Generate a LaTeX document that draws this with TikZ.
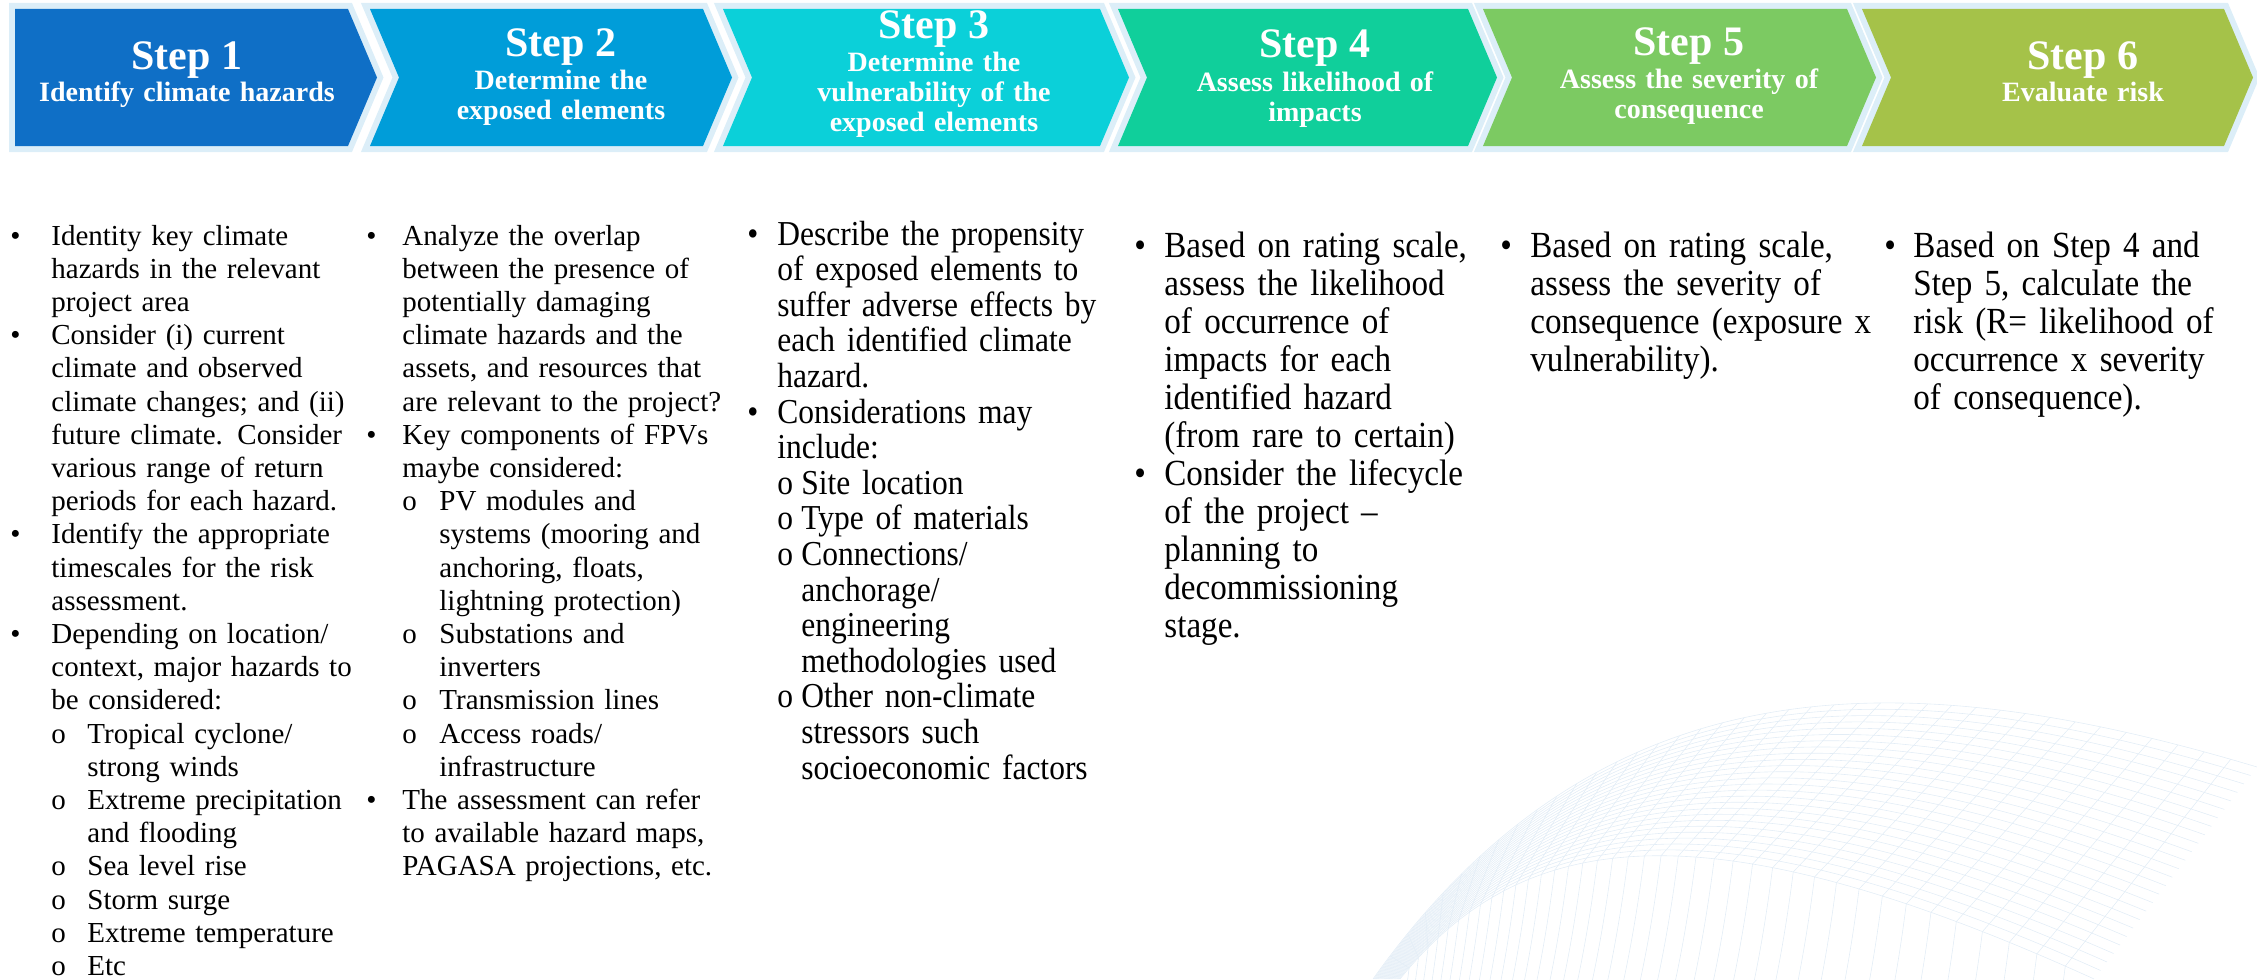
\documentclass[tikz,border=0pt]{standalone}
\usepackage{fontspec}
\setmainfont{Liberation Serif}
\newfontfamily\condfont[FakeStretch=0.9]{Liberation Serif}
\usepackage{tikz}
\usetikzlibrary{positioning}

\definecolor{stepA}{HTML}{0F6FC6}
\definecolor{stepB}{HTML}{009DD9}
\definecolor{stepC}{HTML}{0BD0D9}
\definecolor{stepD}{HTML}{10CF9B}
\definecolor{stepE}{HTML}{7CCA62}
\definecolor{stepF}{HTML}{A5C249}
\definecolor{rim}{HTML}{DCEEF8}
\definecolor{wavecol}{HTML}{E3EDF6}

\newlength\bind
\newlength\sind
\newcommand\bitem[1]{\noindent\hangindent=\bind\hangafter=1\makebox[\bind][l]{\textbullet}#1\par}
\newcommand\sitem[1]{\noindent\hangindent=\sind\hangafter=1\hspace*{\bind}\makebox[\dimexpr\sind-\bind\relax][l]{o}#1\par}

\begin{document}
\begin{tikzpicture}[x=0.5pt, y=-0.5pt,
	chev/.style={preaction={draw=rim, line width=6pt}},
	stepnum/.style={anchor=base, inner sep=0pt, text=white, font=\bfseries\fontsize{21}{21}\selectfont},
	steptxt/.style={anchor=base, inner sep=0pt, text=white, align=center, text width=180pt,
		font=\bfseries\fontsize{14}{15}\selectfont},
	colbox/.style 2 args={anchor=base west, inner sep=0pt, align=left, text width=200pt,
		execute at begin node={\setlength\bind{#1}\setlength\sind{#2}\parskip=0pt}},
	small/.style={font=\fontsize{14.5}{16.6}\selectfont},
	large/.style={font=\condfont\fontsize{18.4}{19}\selectfont},
	wave/.style={draw=wavecol, line width=0.3pt}]
	\useasboundingbox (0,0) rectangle (2257,979);
	% background mesh
	\begin{scope}
		\clip (0,0) rectangle (2257,979);
		\foreach \t in {0,0.04,...,1.01}
			\draw[wave] ({1373+27*\t},979) .. controls ({1600-80*\t},{660+170*\t}) and ({1900-200*\t},{660+140*\t}) .. ({2257-163*\t},{767+212*\t});
		\path (1373,979) .. controls (1600,660) and (1900,660) .. (2257,767)
			\foreach \p [count=\k] in {0.025,0.05,...,0.98} {coordinate[pos=\p] (u\k)};
		\path (1400,979) .. controls (1520,830) and (1700,800) .. (2094,979)
			\foreach \p [count=\k] in {0.025,0.05,...,0.98} {coordinate[pos=\p] (l\k)};
		\foreach \k in {1,...,39} {
			\draw[wave] (u\k) -- (l\k);
			\draw[wave] (l\k) .. controls +(-10,80) and +(30,-60) .. ++(-60,250);
		}
	\end{scope}
	% chevrons
	\foreach \col/\l/\r/\n in {stepA/15/348/0, stepB/370/703/29, stepC/723/1100/29,
		stepD/1118/1468/29, stepE/1483/1847/29, stepF/1862/2224/29}
		\path[chev, fill=\col] (\l,9) -- (\r,9) -- ({\r+29},77.5) -- (\r,146) -- (\l,146) -- ({\l+\n},77.5) -- cycle;
	\node[stepnum] (s1) at (187,69) {Step 1};
	\node[steptxt] (t1) at ([yshift=-16.5pt]s1.base) {Identify climate hazards};
	\node[stepnum] (s2) at (561,57) {Step 2};
	\node[steptxt] (t2) at ([yshift=-16.5pt]s2.base) {Determine the\\exposed elements};
	\node[stepnum] (s3) at (934,39) {Step 3};
	\node[steptxt] (t3) at ([yshift=-16.5pt]s3.base) {Determine the\\vulnerability of the\\exposed elements};
	\node[stepnum] (s4) at (1315,58) {Step 4};
	\node[steptxt] (t4) at ([yshift=-16.5pt]s4.base) {Assess likelihood of\\impacts};
	\node[stepnum] (s5) at (1689,56) {Step 5};
	\node[steptxt] (t5) at ([yshift=-16.5pt]s5.base) {Assess the severity of\\consequence};
	\node[stepnum] (s6) at (2083,69) {Step 6};
	\node[steptxt] (t6) at ([yshift=-16.5pt]s6.base) {Evaluate risk};
	% bullet columns
	\node[colbox={20.5pt}{38.5pt}, small] (c1) at (10,245) {%
		\bitem{Identity key climate\newline hazards in the relevant\newline project area}
		\bitem{Consider (i) current\newline climate and observed\newline climate changes; and (ii)\newline future climate. Consider\newline various range of return\newline periods for each hazard.}
		\bitem{Identify the appropriate\newline timescales for the risk\newline assessment.}
		\bitem{Depending on location/\newline context, major hazards to\newline be considered:}
		\sitem{Tropical cyclone/\newline strong winds}
		\sitem{Extreme precipitation\newline and flooding}
		\sitem{Sea level rise}
		\sitem{Storm surge}
		\sitem{Extreme temperature}
		\sitem{Etc}};
	\node[colbox={18pt}{36.5pt}, small] (c2) at (366,245) {%
		\bitem{Analyze the overlap\newline between the presence of\newline potentially damaging\newline climate hazards and the\newline assets, and resources that\newline are relevant to the project?}
		\bitem{Key components of FPVs\newline maybe considered:}
		\sitem{PV modules and\newline systems (mooring and\newline anchoring, floats,\newline lightning protection)}
		\sitem{Substations and\newline inverters}
		\sitem{Transmission lines}
		\sitem{Access roads/\newline infrastructure}
		\bitem{The assessment can refer\newline to available hazard maps,\newline PAGASA projections, etc.}};
	\node[colbox={15pt}{27pt}, font=\condfont\fontsize{17.5}{17.8}\selectfont] (c3) at (747,245) {%
		\bitem{Describe the propensity\newline of exposed elements to\newline suffer adverse effects by\newline each identified climate\newline hazard.}
		\bitem{Considerations may\newline include:}
		\sitem{Site location}
		\sitem{Type of materials}
		\sitem{Connections/\newline anchorage/\newline engineering\newline methodologies used}
		\sitem{Other non-climate\newline stressors such\newline socioeconomic factors}};
	\node[colbox={15pt}{30pt}, large] (c4) at (1134,257) {%
		\bitem{Based on rating scale,\newline assess the likelihood\newline of occurrence of\newline impacts for each\newline identified hazard\newline (from rare to certain)}
		\bitem{Consider the lifecycle\newline of the project –\newline planning to\newline decommissioning\newline stage.}};
	\node[colbox={15pt}{30pt}, large] (c5) at (1500,257) {%
		\bitem{Based on rating scale,\newline assess the severity of\newline consequence (exposure x\newline vulnerability).}};
	\node[colbox={14.5pt}{29pt}, large] (c6) at (1884,257) {%
		\bitem{Based on Step 4 and\newline Step 5, calculate the\newline risk (R= likelihood of\newline occurrence x severity\newline of consequence).}};
\end{tikzpicture}
\end{document}
